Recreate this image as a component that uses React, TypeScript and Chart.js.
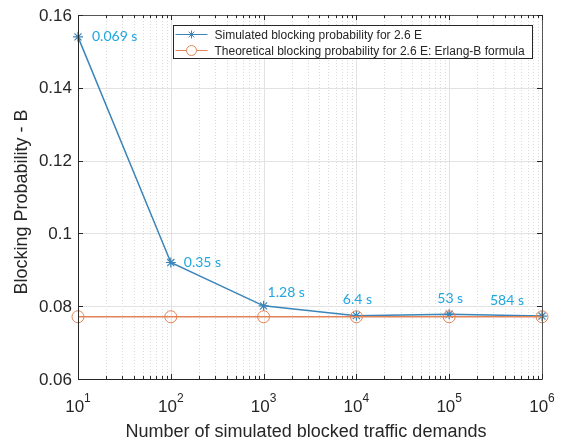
import React, { useEffect, useRef } from 'react';
import { Chart, registerables } from 'chart.js';

Chart.register(...registerables);

const demands = [10, 100, 1000, 10000, 100000, 1000000];
const simulatedB = [0.154, 0.092, 0.0801, 0.0774, 0.0778, 0.0773];
const erlangB = [0.0771, 0.0771, 0.0771, 0.0771, 0.0771, 0.0771];
const runTimes = ['0.069 s', '0.35 s', '1.28 s', '6.4 s', '53 s', '584 s'];
const yTicks = [0.06, 0.08, 0.1, 0.12, 0.14, 0.16];
const yTickLabels = ['0.06', '0.08', '0.1', '0.12', '0.14', '0.16'];
const xExponents = [1, 2, 3, 4, 5, 6];
const seriesNames = [
  'Simulated blocking probability for 2.6 E',
  'Theoretical blocking probability for 2.6 E: Erlang-B formula',
];
const xTitle = 'Number of simulated blocked traffic demands';
const yTitle = 'Blocking Probability - B';

// label offsets (style only): dx, dy, align
const labelOffsets: [number, number, CanvasTextAlign][] = [
  [14, 0, 'left'],
  [13, 0, 'left'],
  [4, -13, 'left'],
  [1, -16, 'center'],
  [1, -16, 'center'],
  [-35, -16, 'center'],
];

const BLUE = '#3b85b9';
const ORANGE = '#e3835a';
const ANNOT = '#1fa6e0';
const AXIS = '#262626';
const AXFONT = '"Liberation Sans", Arial, sans-serif';

const decorPlugin = {
  id: 'matlabDecor',
  beforeDatasetsDraw(chart: any) {
    const { ctx, chartArea: a, scales } = chart;
    const xs = scales.x;
    const ys = scales.y;
    ctx.save();
    // minor x grid (dotted)
    ctx.strokeStyle = '#dcdcdc';
    ctx.lineWidth = 1;
    ctx.setLineDash([1, 2]);
    for (let e = 1; e < 6; e++) {
      for (let k = 2; k <= 9; k++) {
        const px = Math.round(xs.getPixelForValue(k * Math.pow(10, e))) + 0.5;
        ctx.beginPath();
        ctx.moveTo(px, a.top);
        ctx.lineTo(px, a.bottom);
        ctx.stroke();
      }
    }
    ctx.setLineDash([]);
    ctx.strokeStyle = '#e2e2e2';
    xExponents.forEach((e) => {
      const px = Math.round(xs.getPixelForValue(Math.pow(10, e))) + 0.5;
      ctx.beginPath();
      ctx.moveTo(px, a.top);
      ctx.lineTo(px, a.bottom);
      ctx.stroke();
    });
    yTicks.forEach((v) => {
      const py = Math.round(ys.getPixelForValue(v)) + 0.5;
      ctx.beginPath();
      ctx.moveTo(a.left, py);
      ctx.lineTo(a.right, py);
      ctx.stroke();
    });
    ctx.restore();
  },
  afterDatasetsDraw(chart: any) {
    const { ctx, chartArea: a, scales } = chart;
    const xs = scales.x;
    const ys = scales.y;
    ctx.save();
    // axis box
    ctx.strokeStyle = AXIS;
    ctx.lineWidth = 1;
    ctx.beginPath();
    ctx.moveTo(Math.round(a.left) + 0.5, Math.round(a.top) + 0.5);
    ctx.lineTo(Math.round(a.left) + 0.5, Math.round(a.bottom) + 0.5);
    ctx.lineTo(Math.round(a.right) + 0.5, Math.round(a.bottom) + 0.5);
    ctx.stroke();
    ctx.strokeStyle = '#555555';
    ctx.beginPath();
    ctx.moveTo(Math.round(a.left) + 0.5, Math.round(a.top) + 0.5);
    ctx.lineTo(Math.round(a.right) + 0.5, Math.round(a.top) + 0.5);
    ctx.lineTo(Math.round(a.right) + 0.5, Math.round(a.bottom) + 0.5);
    ctx.stroke();
    // inward ticks
    ctx.strokeStyle = AXIS;
    for (let e = 1; e < 6; e++) {
      for (let k = 2; k <= 9; k++) {
        const px = Math.round(xs.getPixelForValue(k * Math.pow(10, e))) + 0.5;
        ctx.beginPath();
        ctx.moveTo(px, a.bottom);
        ctx.lineTo(px, a.bottom - 3);
        ctx.moveTo(px, a.top);
        ctx.lineTo(px, a.top + 3);
        ctx.stroke();
      }
    }
    xExponents.forEach((e) => {
      const px = Math.round(xs.getPixelForValue(Math.pow(10, e))) + 0.5;
      ctx.beginPath();
      ctx.moveTo(px, a.bottom);
      ctx.lineTo(px, a.bottom - 5);
      ctx.moveTo(px, a.top);
      ctx.lineTo(px, a.top + 5);
      ctx.stroke();
    });
    yTicks.forEach((v) => {
      const py = Math.round(ys.getPixelForValue(v)) + 0.5;
      ctx.beginPath();
      ctx.moveTo(a.left, py);
      ctx.lineTo(a.left + 5, py);
      ctx.moveTo(a.right, py);
      ctx.lineTo(a.right - 5, py);
      ctx.stroke();
    });

    // y tick labels
    ctx.fillStyle = AXIS;
    ctx.font = `17px ${AXFONT}`;
    ctx.textAlign = 'right';
    ctx.textBaseline = 'middle';
    yTicks.forEach((v, i) => {
      ctx.fillText(yTickLabels[i], a.left - 6, ys.getPixelForValue(v) + 1);
    });

    // x tick labels 10^n
    ctx.textBaseline = 'alphabetic';
    xExponents.forEach((e) => {
      const px = xs.getPixelForValue(Math.pow(10, e));
      ctx.font = `17px ${AXFONT}`;
      const w1 = ctx.measureText('10').width;
      ctx.font = `12px ${AXFONT}`;
      const sup = String(e);
      const w2 = ctx.measureText(sup).width;
      const start = px - (w1 + w2) / 2;
      ctx.textAlign = 'left';
      ctx.font = `17px ${AXFONT}`;
      ctx.fillText('10', start, a.bottom + 33);
      ctx.font = `12px ${AXFONT}`;
      ctx.fillText(sup, start + w1, a.bottom + 23);
    });

    // axis titles
    ctx.font = `18px ${AXFONT}`;
    ctx.textAlign = 'center';
    ctx.textBaseline = 'middle';
    ctx.fillText(xTitle, (a.left + a.right) / 2 - 4, a.bottom + 53);
    ctx.save();
    ctx.translate(22, 202);
    ctx.rotate(-Math.PI / 2);
    ctx.fillText(yTitle, 0, 0);
    ctx.restore();

    // run-time annotations
    ctx.fillStyle = ANNOT;
    ctx.font = '14px Lato, "Open Sans", sans-serif';
    ctx.textBaseline = 'middle';
    demands.forEach((d, i) => {
      const px = xs.getPixelForValue(d);
      const py = ys.getPixelForValue(simulatedB[i]);
      const [dx, dy, al] = labelOffsets[i];
      ctx.textAlign = al;
      ctx.fillText(runTimes[i], px + dx, py + dy);
    });

    // legend
    const lx = 173.5, ly = 25.5, lw = 359, lh = 33;
    ctx.fillStyle = '#ffffff';
    ctx.fillRect(lx, ly, lw, lh);
    ctx.strokeStyle = AXIS;
    ctx.lineWidth = 1;
    ctx.strokeRect(lx, ly, lw, lh);
    const rows = [ly + 9, ly + 25];
    const colors = [BLUE, ORANGE];
    rows.forEach((ry, i) => {
      ctx.strokeStyle = colors[i];
      ctx.lineWidth = 1;
      ctx.beginPath();
      ctx.moveTo(lx + 2, ry);
      ctx.lineTo(lx + 34, ry);
      ctx.stroke();
      const cx = lx + 18;
      if (i === 0) {
        const r = 4;
        ctx.beginPath();
        for (let k = 0; k < 4; k++) {
          const ang = (k * Math.PI) / 4;
          ctx.moveTo(cx - r * Math.cos(ang), ry - r * Math.sin(ang));
          ctx.lineTo(cx + r * Math.cos(ang), ry + r * Math.sin(ang));
        }
        ctx.stroke();
      } else {
        ctx.beginPath();
        ctx.arc(cx, ry, 5, 0, Math.PI * 2);
        ctx.fillStyle = '#ffffff';
        ctx.fill();
        ctx.stroke();
      }
      ctx.fillStyle = AXIS;
      ctx.font = `12px ${AXFONT}`;
      ctx.textAlign = 'left';
      ctx.textBaseline = 'middle';
      ctx.fillText(seriesNames[i], lx + 41, ry + 1);
    });
    ctx.restore();
  },
};

export default function App() {
  const ref = useRef<HTMLCanvasElement | null>(null);
  useEffect(() => {
    if (!ref.current) return;
    const chart = new Chart(ref.current, {
      type: 'line',
      data: {
        labels: demands,
        datasets: [
          {
            label: seriesNames[1],
            data: demands.map((d, i) => ({ x: d, y: erlangB[i] })),
            borderColor: ORANGE,
            backgroundColor: 'rgba(0,0,0,0)',
            borderWidth: 1.5,
            pointStyle: 'circle',
            pointRadius: 6,
            pointBorderWidth: 1,
            pointBorderColor: ORANGE,
            pointBackgroundColor: 'rgba(0,0,0,0)',
            clip: false,
          } as any,
          {
            label: seriesNames[0],
            data: demands.map((d, i) => ({ x: d, y: simulatedB[i] })),
            borderColor: BLUE,
            backgroundColor: 'rgba(0,0,0,0)',
            borderWidth: 1.5,
            pointStyle: 'star',
            pointRadius: 5,
            pointBorderWidth: 1.2,
            pointBorderColor: BLUE,
            pointBackgroundColor: BLUE,
            clip: false,
          } as any,
        ],
      },
      options: {
        animation: false,
        responsive: false,
        maintainAspectRatio: false,
        layout: { padding: { left: 78, right: 19, top: 15, bottom: 64 } },
        plugins: { legend: { display: false }, tooltip: { enabled: false } },
        scales: {
          x: { type: 'logarithmic', min: 10, max: 1000000, display: false },
          y: { type: 'linear', min: 0.06, max: 0.16, display: false },
        },
      },
      plugins: [decorPlugin],
    });
    return () => chart.destroy();
  }, []);
  return (
    <div style={{ position: 'absolute', left: 0, top: 0, width: 561, height: 443, background: '#fff' }}>
      <canvas ref={ref} width={561} height={443} style={{ width: 561, height: 443 }} />
    </div>
  );
}
